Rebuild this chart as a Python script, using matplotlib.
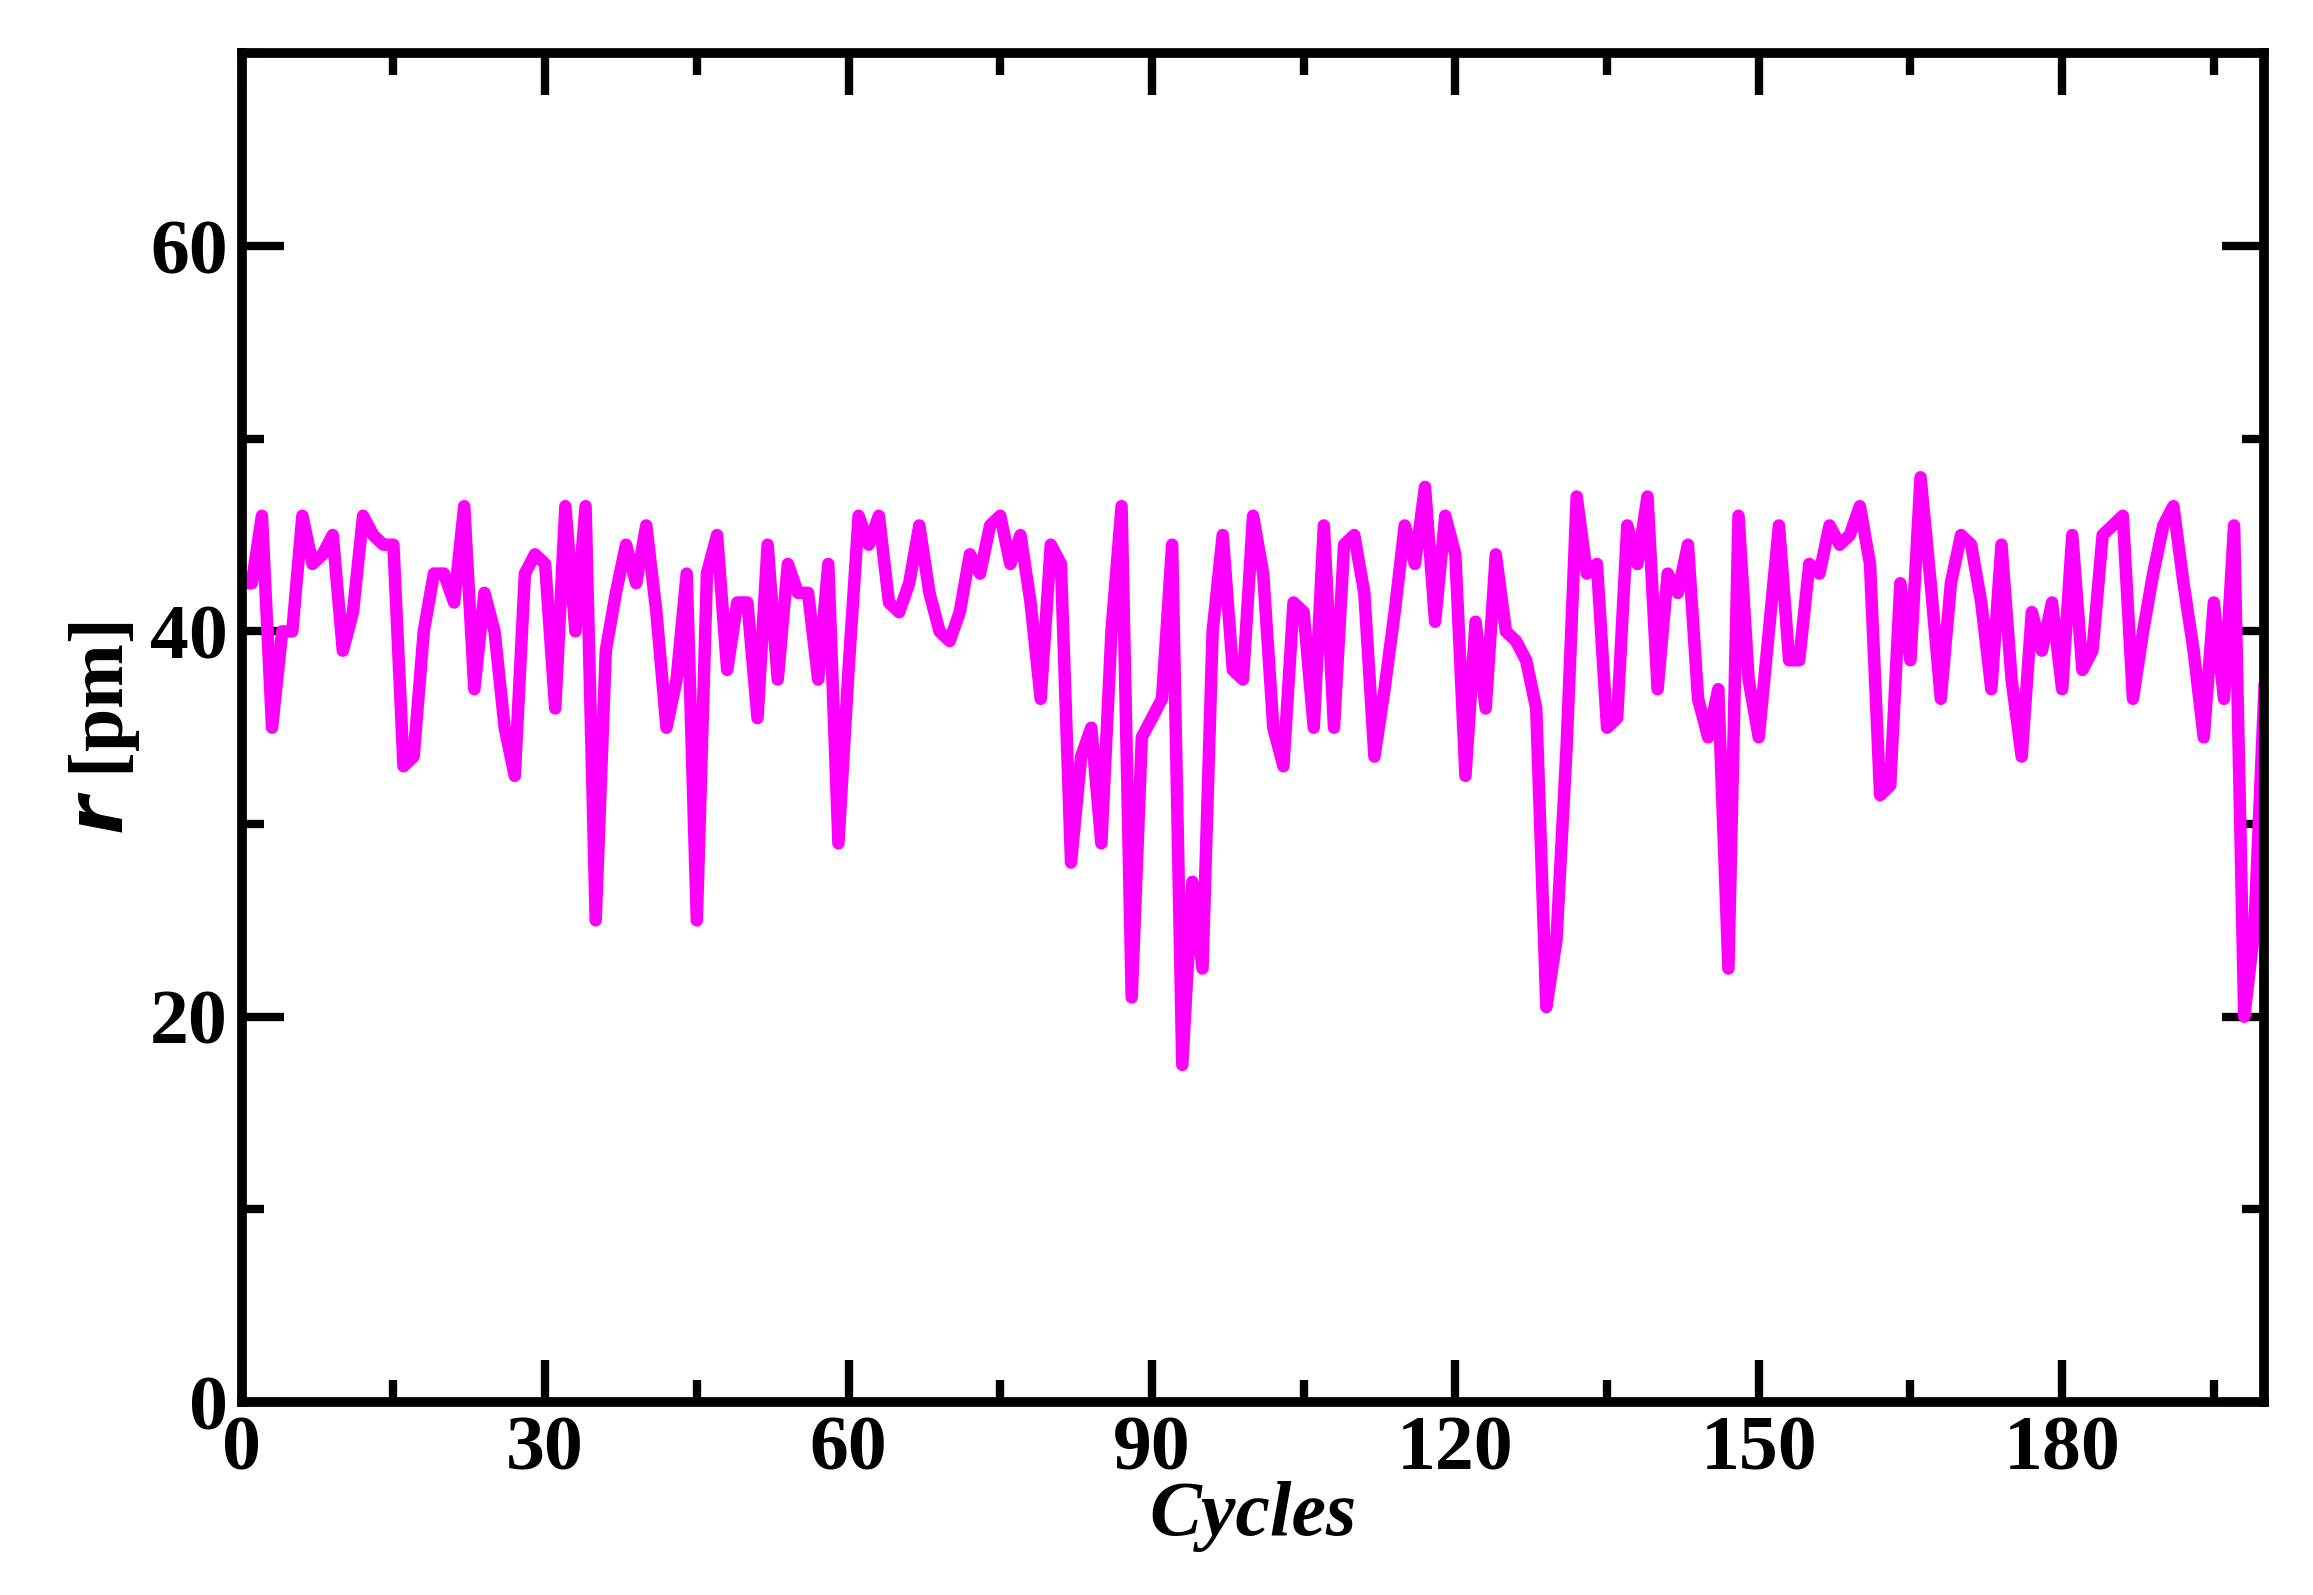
import matplotlib
matplotlib.use("Agg")
import matplotlib.pyplot as plt
from matplotlib.ticker import MultipleLocator

r_pm = [42.5,42.5,46,35,40,40,46,43.5,44,45,39,41,46,45,44.5,44.5,33,33.5,40,43,
        43,41.5,46.5,37,42,40,35,32.5,43,44,43.5,36,46.5,40,46.5,25,39,42,44.5,42.5,
        45.5,41,35,37.5,43,25,43,45,38,41.5,41.5,35.5,44.5,37.5,43.5,42,42,37.5,43.5,29,
        38,46,44.5,46,41.5,41,42.5,45.5,42,40,39.5,41,44,43,45.5,46,43.5,45,41.5,36.5,
        44.5,43.5,28,33.5,35,29,40,46.5,21,34.5,35.5,36.5,44.5,17.5,27,22.5,40,45,38,37.5,
        46,43,35,33,41.5,41,35,45.5,35,44.5,45,42,33.5,37,41,45.5,43.5,47.5,40.5,46,
        44,32.5,40.5,36,44,40,39.5,38.5,36,20.5,24,34,47,43,43.5,35,35.5,45.5,43.5,47,
        37,43,42,44.5,36.5,34.5,37,22.5,46,37.5,34.5,40,45.5,38.5,38.5,43.5,43,45.5,44.5,45,
        46.5,43.5,31.5,32,42.5,38.5,48,42.5,36.5,42.5,45,44.5,41.5,37,44.5,37.5,33.5,41,39,41.5,
        37,45,38,39,45,45.5,46,36.5,40,43,45.5,46.5,42.5,39,34.5,41.5,36.5,45.5,20,24.5,37]
cycles = list(range(len(r_pm)))

plt.rcParams['font.family'] = ['Liberation Serif', 'DejaVu Serif']
plt.rcParams['font.weight'] = 'bold'
fig = plt.figure(figsize=(23.13, 15.95), dpi=100)
ax = fig.add_axes([0.1045, 0.121, 0.8745, 0.8455])
ax.plot(cycles, r_pm, color='#ff00ff', lw=9)
ax.set_xlim(0, 200)
ax.set_ylim(0, 70)
ax.xaxis.set_major_locator(MultipleLocator(30))
ax.xaxis.set_minor_locator(MultipleLocator(15))
ax.yaxis.set_major_locator(MultipleLocator(20))
ax.yaxis.set_minor_locator(MultipleLocator(10))
ax.tick_params(which='both', direction='in', top=True, right=True, width=6)
ax.tick_params(which='major', length=30, labelsize=56, pad=10)
ax.tick_params(which='minor', length=16)
for s in ax.spines.values():
    s.set_linewidth(7)
for lab in ax.get_xticklabels() + ax.get_yticklabels():
    lab.set_fontweight('bold')
ax.set_xlabel('Cycles', fontsize=56, fontweight='bold', style='italic', labelpad=-4)
ax.set_ylabel(r'$\boldsymbol{r}$ [pm]', fontsize=56, fontweight='bold', labelpad=6)
fig.savefig('out.png', dpi=100)
